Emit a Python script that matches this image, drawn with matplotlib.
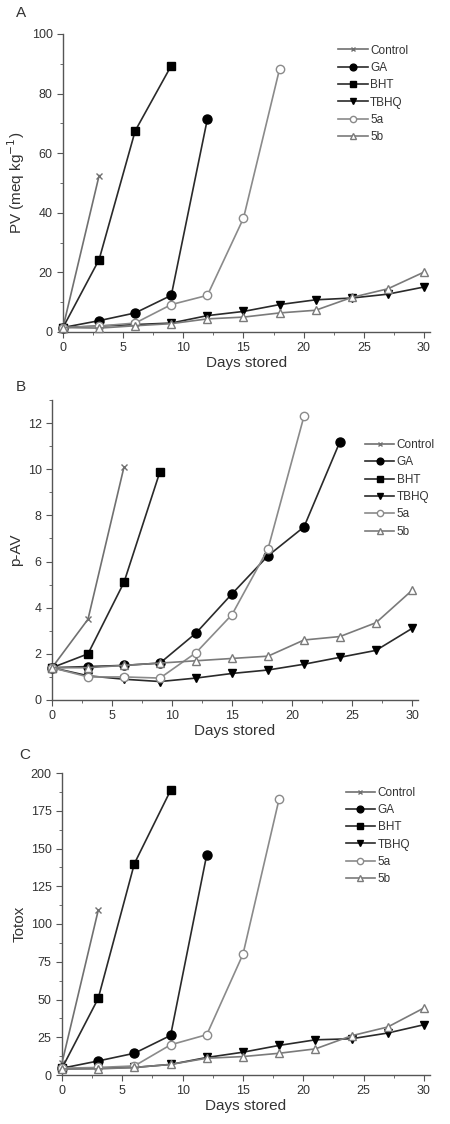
import numpy as np
import matplotlib
matplotlib.use("Agg")
import matplotlib.pyplot as plt
from matplotlib.ticker import MultipleLocator

plt.rcParams['font.family'] = ['Liberation Sans', 'DejaVu Sans']

# ---- data ----
days_all = [0, 3, 6, 9, 12, 15, 18, 21, 24, 27, 30]

# Panel A: PV (meq kg-1)
pv_control = [1.5, 52.5]
pv_ga = [1.5, 3.8, 6.4, 12.3, 71.5]
pv_bht = [1.5, 24.3, 67.5, 89.4]
pv_tbhq = [1.5, 2.0, 2.5, 3.0, 5.5, 6.9, 9.2, 10.8, 11.4, 12.7, 15.1]
pv_5a = [1.5, 2.0, 3.0, 9.2, 12.3, 38.2, 88.3]
pv_5b = [1.5, 1.3, 2.1, 2.8, 4.4, 5.0, 6.4, 7.3, 11.6, 14.5, 20.1]

# Panel B: p-AV
pav_control = [1.4, 3.5, 10.1]
pav_ga = [1.4, 1.45, 1.5, 1.6, 2.9, 4.6, 6.25, 7.5, 11.2]
pav_bht = [1.4, 2.0, 5.1, 9.9]
pav_tbhq = [1.4, 1.05, 0.9, 0.8, 0.95, 1.15, 1.3, 1.55, 1.85, 2.15, 3.1]
pav_5a = [1.4, 1.0, 1.0, 0.95, 2.05, 3.7, 6.55, 12.3]
pav_5b = [1.4, 1.4, 1.5, 1.6, 1.7, 1.8, 1.9, 2.6, 2.75, 3.35, 4.75]

# Panel C: Totox
tot_control = [8.0, 109.0]
tot_ga = [4.5, 9.3, 14.4, 26.2, 146.0]
tot_bht = [4.5, 50.7, 140.0, 188.5]
tot_tbhq = [4.0, 4.5, 5.0, 7.0, 11.6, 15.1, 19.6, 23.3, 24.0, 27.8, 33.3]
tot_5a = [4.5, 5.0, 6.0, 20.0, 26.7, 80.0, 183.0]
tot_5b = [4.0, 4.0, 5.0, 7.0, 11.1, 12.2, 14.4, 17.3, 26.0, 31.8, 44.4]

labels = ["Control", "GA", "BHT", "TBHQ", "5a", "5b"]

styles = {
    "Control": dict(color="#707070", marker="x", ms=4, mfc="#707070", mec="#707070"),
    "GA": dict(color="#2a2a2a", marker="o", ms=6.5, mfc="black", mec="black"),
    "BHT": dict(color="#2a2a2a", marker="s", ms=6, mfc="black", mec="black"),
    "TBHQ": dict(color="#2a2a2a", marker="v", ms=6, mfc="black", mec="black"),
    "5a": dict(color="#8a8a8a", marker="o", ms=6, mfc="white", mec="#8a8a8a"),
    "5b": dict(color="#7a7a7a", marker="^", ms=6, mfc="white", mec="#7a7a7a"),
}

panels = [
    dict(letter="A", ylabel="PV (meq kg$^{-1}$)", ylim=(0, 100), major=20, minor=10,
         series=[pv_control, pv_ga, pv_bht, pv_tbhq, pv_5a, pv_5b],
         rect=[63 / 450, 1 - 332 / 1124, 367 / 450, 298 / 1124], letter_xy=(16, 13),
         leg_anchor=(0.97, 1.0)),
    dict(letter="B", ylabel="p-AV", ylim=(0, 13), major=2, minor=1,
         series=[pav_control, pav_ga, pav_bht, pav_tbhq, pav_5a, pav_5b],
         rect=[52 / 450, 1 - 700 / 1124, 366 / 450, 300 / 1124], letter_xy=(16, 387),
         leg_anchor=(1.075, 0.905)),
    dict(letter="C", ylabel="Totox", ylim=(0, 200), major=25, minor=12.5,
         series=[tot_control, tot_ga, tot_bht, tot_tbhq, tot_5a, tot_5b],
         rect=[62 / 450, 1 - 1075 / 1124, 368 / 450, 302 / 1124], letter_xy=(19, 755),
         leg_anchor=(0.99, 0.99)),
]

fig = plt.figure(figsize=(4.5, 11.24), dpi=100)

for p in panels:
    ax = fig.add_axes(p["rect"])
    for name, vals in zip(labels, p["series"]):
        st = styles[name]
        ax.plot(days_all[:len(vals)], vals, color=st["color"], lw=1.2,
                marker=st["marker"], markersize=st["ms"], markerfacecolor=st["mfc"],
                markeredgecolor=st["mec"], markeredgewidth=1.0, label=name,
                clip_on=False, zorder=3)
    ax.set_xlim(0, 30.5)
    ax.set_ylim(*p["ylim"])
    ax.xaxis.set_major_locator(MultipleLocator(5))
    ax.xaxis.set_minor_locator(MultipleLocator(2.5))
    ax.yaxis.set_major_locator(MultipleLocator(p["major"]))
    ax.yaxis.set_minor_locator(MultipleLocator(p["minor"]))
    for s in ["top", "right"]:
        ax.spines[s].set_visible(False)
    for s in ["left", "bottom"]:
        ax.spines[s].set_color("#555555")
        ax.spines[s].set_linewidth(1.0)
    ax.tick_params(which="both", direction="out", colors="#555555", labelcolor="#333333",
                   labelsize=9)
    ax.tick_params(which="major", length=4)
    ax.tick_params(which="minor", length=2.5)
    ax.set_xlabel("Days stored", fontsize=11, color="#333333", labelpad=1)
    ax.set_ylabel(p["ylabel"], fontsize=11, color="#333333", labelpad=3)
    leg = ax.legend(loc="upper right", bbox_to_anchor=p["leg_anchor"], frameon=False,
                    fontsize=8.5, handlelength=2.5, handletextpad=0.2, labelspacing=0.45,
                    markerscale=0.75)
    for t in leg.get_texts():
        t.set_color("#333333")
    lx, ly = p["letter_xy"]
    fig.text(lx / 450, 1 - ly / 1124, p["letter"], fontsize=11, color="#333333",
             ha="left", va="center")

fig.savefig("out.png", dpi=100, facecolor="white")
